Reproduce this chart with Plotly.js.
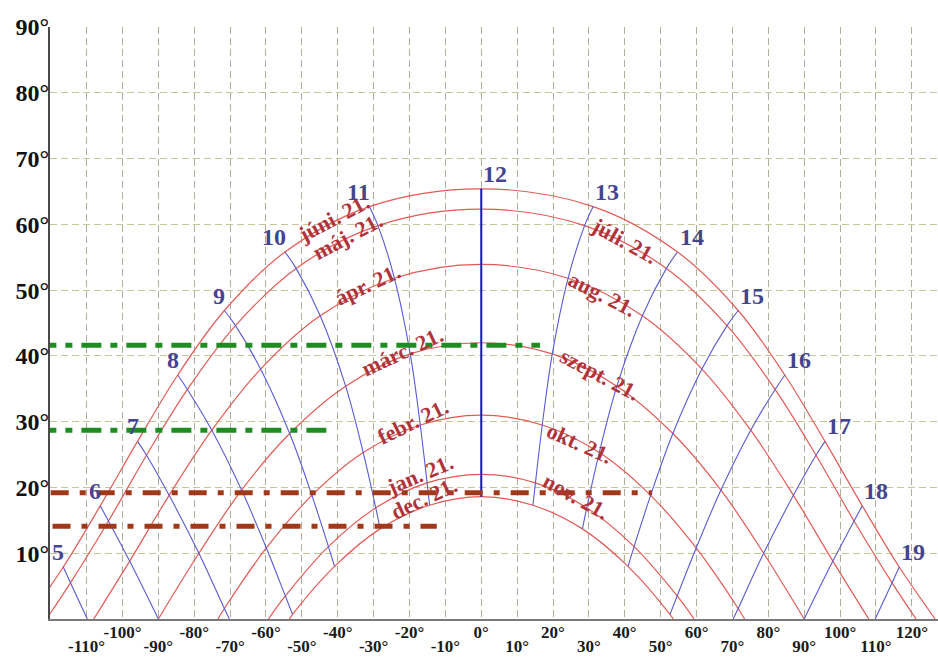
<!DOCTYPE html>
<html>
<head>
<meta charset="utf-8">
<script src="https://cdn.plot.ly/plotly-3.0.1.min.js"></script>
<style>
  html, body { margin: 0; padding: 0; background: #ffffff; }
  #chart { width: 938px; height: 657px; }
</style>
</head>
<body>
<div id="chart"></div>
<script>
// Sun path diagram (about 48° N): azimuth from south (°) against solar altitude (°).

// ---- date curves: hourly sun positions, sunrise to sunset ----
const junAz  = [-126.5, -116.5, -106.2, -95.8, -84.6, -71.6, -54.7, -31.2, 0, 31.2, 54.7, 71.6, 84.6, 95.8, 106.2, 116.5, 126.5];
const junAlt = [0, 7.9, 17.2, 27.0, 37.1, 46.9, 55.8, 62.7, 65.4, 62.7, 55.8, 46.9, 37.1, 27.0, 17.2, 7.9, 0];

const mayAz  = [-121.2, -114.5, -103.9, -93.3, -81.9, -68.5, -51.6, -28.8, 0, 28.8, 51.6, 68.5, 81.9, 93.3, 103.9, 114.5, 121.2];
const mayAlt = [0, 5.5, 14.9, 24.9, 34.9, 44.6, 53.3, 59.8, 62.3, 59.8, 53.3, 44.6, 34.9, 24.9, 14.9, 5.5, 0];

const aprAz  = [-108.0, -98.0, -87.0, -75.1, -61.5, -44.9, -24.2, 0, 24.2, 44.9, 61.5, 75.1, 87.0, 98.0, 108.0];
const aprAlt = [0, 8.8, 18.8, 28.7, 38.0, 46.1, 51.8, 53.9, 51.8, 46.1, 38.0, 28.7, 18.8, 8.8, 0];

const marAz  = [-90, -78.7, -66.8, -53.4, -37.8, -19.8, 0, 19.8, 37.8, 53.4, 66.8, 78.7, 90];
const marAlt = [0, 10.0, 19.6, 28.2, 35.4, 40.3, 42.0, 40.3, 35.4, 28.2, 19.6, 10.0, 0];

const febAz  = [-73.4, -71.6, -59.9, -47.2, -32.9, -17.0, 0, 17.0, 32.9, 47.2, 59.9, 71.6, 73.4];
const febAlt = [0, 1.6, 10.8, 18.8, 25.3, 29.5, 31.0, 29.5, 25.3, 18.8, 10.8, 1.6, 0];

const janAz  = [-59.3, -54.6, -42.6, -29.4, -15.1, 0, 15.1, 29.4, 42.6, 54.6, 59.3];
const janAlt = [0, 3.5, 11.0, 16.9, 20.7, 22.0, 20.7, 16.9, 11.0, 3.5, 0];

const decAz  = [-53.5, -52.6, -40.9, -28.2, -14.4, 0, 14.4, 28.2, 40.9, 52.6, 53.5];
const decAlt = [0, 0.7, 8.0, 13.7, 17.3, 18.6, 17.3, 13.7, 8.0, 0.7, 0];

// ---- hour lines: june point first, then down through the dates ----
const hourNames = ['5', '6', '7', '8', '9', '10', '11', '12', '13', '14', '15', '16', '17', '18', '19'];
const hourAz = [
  [-116.5, -114.5, -109.8],
  [-106.2, -103.9, -98.0, -90],
  [-95.8, -93.3, -87.0, -78.7, -71.6, -70.2],
  [-84.6, -81.9, -75.1, -66.8, -59.9, -54.6, -52.6],
  [-71.6, -68.5, -61.5, -53.4, -47.2, -42.6, -40.9],
  [-54.7, -51.6, -44.9, -37.8, -32.9, -29.4, -28.2],
  [-31.2, -28.8, -24.2, -19.8, -17.0, -15.1, -14.4],
  [0, 0, 0, 0, 0, 0, 0],
  [31.2, 28.8, 24.2, 19.8, 17.0, 15.1, 14.4],
  [54.7, 51.6, 44.9, 37.8, 32.9, 29.4, 28.2],
  [71.6, 68.5, 61.5, 53.4, 47.2, 42.6, 40.9],
  [84.6, 81.9, 75.1, 66.8, 59.9, 54.6, 52.6],
  [95.8, 93.3, 87.0, 78.7, 71.6, 70.2],
  [106.2, 103.9, 98.0, 90],
  [116.5, 114.5, 109.8]
];
const hourAlt = [
  [7.9, 5.5, 0],
  [17.2, 14.9, 8.8, 0],
  [27.0, 24.9, 18.8, 10.0, 1.6, 0],
  [37.1, 34.9, 28.7, 19.6, 10.8, 3.5, 0.7],
  [46.9, 44.6, 38.0, 28.2, 18.8, 11.0, 8.0],
  [55.8, 53.3, 46.1, 35.4, 25.3, 16.9, 13.7],
  [62.7, 59.8, 51.8, 40.3, 29.5, 20.7, 17.3],
  [65.4, 62.3, 53.9, 42.0, 31.0, 22.0, 18.6],
  [62.7, 59.8, 51.8, 40.3, 29.5, 20.7, 17.3],
  [55.8, 53.3, 46.1, 35.4, 25.3, 16.9, 13.7],
  [46.9, 44.6, 38.0, 28.2, 18.8, 11.0, 8.0],
  [37.1, 34.9, 28.7, 19.6, 10.8, 3.5, 0.7],
  [27.0, 24.9, 18.8, 10.0, 1.6, 0],
  [17.2, 14.9, 8.8, 0],
  [7.9, 5.5, 0]
];

// ---- horizontal reference levels (dash-dot) ----
const refAlt  = [41.6, 28.7, 19.2, 14.1];
const refFrom = [-124, -124, -120, -119.5];
const refTo   = [16.4, -42.7, 47.6, -12.4];

// ---- axis ticks ----
const xTickUpper = [-100, -80, -60, -40, -20, 0, 20, 40, 60, 80, 100, 120];
const xTickLower = [-110, -90, -70, -50, -30, -10, 10, 30, 50, 70, 90, 110];
const yTicks = [10, 20, 30, 40, 50, 60, 70, 80, 90];

// ---- styling ----
const SERIF = 'Liberation Serif, Times New Roman, serif';
const DATE_RED = '#e35a55';
const HOUR_BLUE = '#5a5ad2';
const X_RANGE = [-120.2, 127.3];

const dateCurves = [
  [junAz, junAlt], [mayAz, mayAlt], [aprAz, aprAlt], [marAz, marAlt],
  [febAz, febAlt], [janAz, janAlt], [decAz, decAlt]
];

const traces = [];

dateCurves.forEach(([az, alt]) => {
  traces.push({
    x: az, y: alt, type: 'scatter', mode: 'lines', hoverinfo: 'skip',
    line: { color: DATE_RED, width: 1.2, shape: 'spline', smoothing: 1 }
  });
});

hourNames.forEach((name, i) => {
  const noon = name === '12';
  traces.push({
    x: hourAz[i], y: hourAlt[i], type: 'scatter', mode: 'lines', hoverinfo: 'skip',
    line: noon ? { color: '#1414c8', width: 2 }
               : { color: HOUR_BLUE, width: 1.1, shape: 'spline', smoothing: 1 }
  });
});

const refColors = ['#1f8c22', '#1f8c22', '#a2381a', '#a2381a'];
const refDash = ['20px,9px,7px,9px', '20px,9px,7px,9px', '18px,11px,6px,11px', '18px,11px,6px,11px'];
refAlt.forEach((a, i) => {
  traces.push({
    x: [refFrom[i], refTo[i]], y: [a, a], type: 'scatter', mode: 'lines',
    xaxis: 'x2', yaxis: 'y', hoverinfo: 'skip',
    line: { color: refColors[i], width: 5, dash: refDash[i] }
  });
});

// month labels laid along their curves: [text, azimuth, altitude, angle]
const monthLabels = [
  ['júni. 21.', -41.3, 60.9, -28],
  ['máj. 21.', -37.4, 58.2, -28],
  ['ápr. 21.', -31.6, 50.8, -25],
  ['márc. 21.', -21.9, 40.6, -25],
  ['febr. 21.', -19.0, 30.1, -26],
  ['jan. 21.', -17.1, 21.9, -23],
  ['dec. 21.', -16.0, 18.3, -25],
  ['júli. 21.', 39.8, 57.6, 29],
  ['aug. 21.', 33.9, 49.4, 27],
  ['szept. 21.', 33.1, 37.2, 28],
  ['okt. 21.', 27.5, 26.7, 24],
  ['nov. 21.', 26.4, 18.6, 29]
];

const annotations = [];
monthLabels.forEach(([t, x, y, ang]) => {
  annotations.push({
    text: t, x: x, y: y, xref: 'x', yref: 'y', showarrow: false,
    textangle: ang, xanchor: 'center', yanchor: 'middle',
    font: { family: SERIF, size: 22, color: '#b0333a', weight: 'bold' }
  });
});

// hour numbers sit at the june end of each hour line
hourNames.forEach((name, i) => {
  const morning = hourAz[i][0] < 0;
  annotations.push({
    text: name, x: hourAz[i][0], y: hourAlt[i][0], xref: 'x', yref: 'y',
    showarrow: false, xanchor: morning ? 'right' : 'left', yanchor: 'middle',
    xshift: morning ? 3 : 0, yshift: 15,
    font: { family: SERIF, size: 24, color: '#45458f', weight: 'bold' }
  });
});

const gridX = 'rgba(120,120,85,0.6)';
const gridY = 'rgba(160,160,80,0.6)';
const xTickFont = { family: SERIF, size: 17, color: '#1a1a1a', weight: 'bold' };

const layout = {
  width: 938, height: 657,
  margin: { l: 50, r: 0, t: 27, b: 38, pad: 0 },
  paper_bgcolor: '#ffffff', plot_bgcolor: '#ffffff',
  showlegend: false,
  xaxis: {
    range: X_RANGE, tickmode: 'array', tickvals: xTickUpper,
    ticktext: xTickUpper.map(v => v + '°'),
    showgrid: true, gridcolor: gridX, gridwidth: 1, griddash: '7px,4px',
    zeroline: false, showline: true, linecolor: '#7a7a7a', linewidth: 2,
    ticks: '', tickfont: xTickFont, ticklabelstandoff: -3, fixedrange: true
  },
  xaxis2: {
    range: X_RANGE, overlaying: 'x', anchor: 'y', side: 'bottom',
    tickmode: 'array', tickvals: xTickLower,
    ticktext: xTickLower.map(v => v + '°'),
    showgrid: true, gridcolor: gridX, gridwidth: 1, griddash: '7px,4px',
    zeroline: false, showline: false, ticks: '', tickfont: xTickFont,
    ticklabelstandoff: 15, fixedrange: true
  },
  yaxis: {
    range: [0, 90], tickmode: 'array', tickvals: yTicks,
    ticktext: yTicks.map(v => v + '°'),
    showgrid: true, gridcolor: gridY, gridwidth: 1, griddash: '7px,4px',
    zeroline: false, showline: true, linecolor: '#4a4a4a', linewidth: 2,
    ticks: '', ticklabelstandoff: -6,
    tickfont: { family: SERIF, size: 24, color: '#111111', weight: 'bold' },
    fixedrange: true
  },
  annotations: annotations
};

Plotly.newPlot('chart', traces, layout, { staticPlot: true, displayModeBar: false });
</script>
</body>
</html>
